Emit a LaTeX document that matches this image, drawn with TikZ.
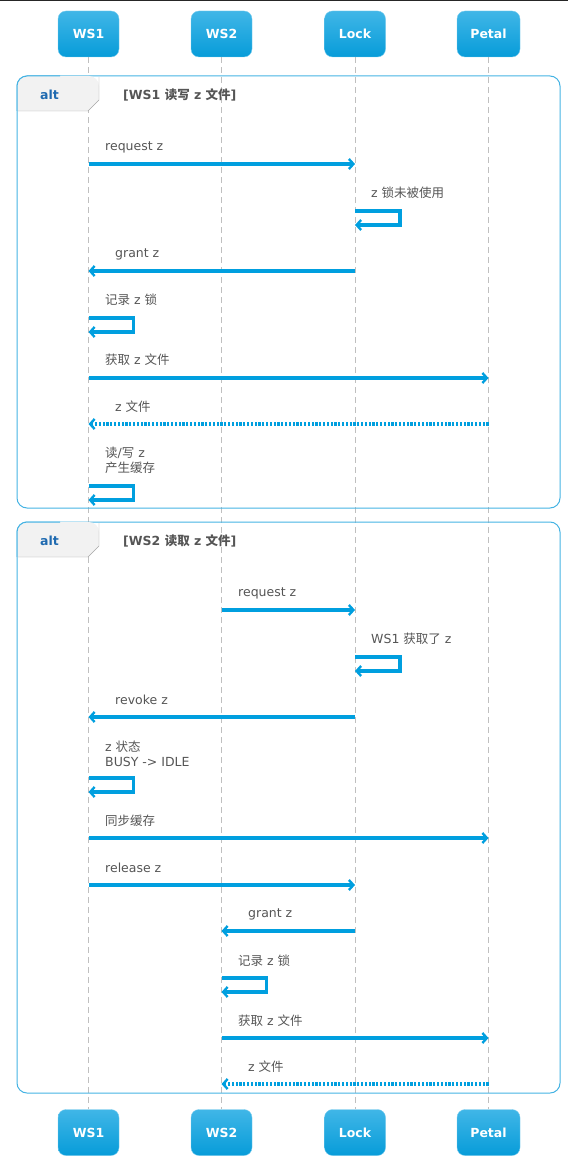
\documentclass[tikz,border=0pt]{standalone}
\usepackage{fontspec}
\setmainfont{DejaVu Sans}
\newfontfamily\cjk{Noto Sans CJK SC}
\usetikzlibrary{arrows.meta}
\definecolor{msgblue}{HTML}{009FDF}
\definecolor{boxtop}{HTML}{40B6E7}
\definecolor{boxbot}{HTML}{079CD9}
\definecolor{framecol}{HTML}{45B3E3}
\definecolor{txtgray}{HTML}{555555}
\definecolor{altblue}{HTML}{1F6AB0}
\definecolor{tabfill}{HTML}{F2F2F2}
\newcommand{\zh}[1]{{\cjk #1}}

\begin{document}
\begin{tikzpicture}[x=1pt,y=-1pt]

      \tikzset{actor/.style={draw=boxtop!70!white, top color=boxtop, bottom color=boxbot, rounded corners=8pt,
                 minimum width=61pt, minimum height=46pt, text=white, font=\fontsize{12.5}{15}\selectfont\bfseries},
               msg/.style={draw=msgblue, line width=3.2pt, -{Straight Barb[length=4.5pt,width=10pt,line width=2.4pt]}},
               reply/.style={msg, dash pattern=on 2.2pt off 1.6pt},
               lifeline/.style={draw=black!25, dash pattern=on 6pt off 4pt, line width=0.8pt},
               note/.style={anchor=west, text=txtgray, inner sep=0pt, font=\fontsize{12.5}{15}\selectfont, align=left},
               frame/.style={draw=framecol, line width=1pt, rounded corners=10pt},
               title/.style={anchor=west, text=txtgray, inner sep=0pt, font=\fontsize{12.5}{15}\selectfont\bfseries}}
      \useasboundingbox (0,0) rectangle (568,1158);
      \draw[black!85, line width=1.2pt] (0,0.6) -- (568,0.6);
%% Participants
      	\node[actor] (ws1) at (88.5,34) {WS1};
      	\node[actor] (ws2) at (221.5,34) {WS2};
      	\node[actor] (lock) at (355,34) {Lock};
      	\node[actor, minimum width=63pt] (petal) at (488.5,34) {Petal};
      	\node[actor] (ws1b) at (88.5,1132.5) {WS1};
      	\node[actor] (ws2b) at (221.5,1132.5) {WS2};
      	\node[actor] (lockb) at (355,1132.5) {Lock};
      	\node[actor, minimum width=63pt] (petalb) at (488.5,1132.5) {Petal};
%% Lifelines
		\draw[lifeline] (ws1) -- (ws1b);
		\draw[lifeline] (ws2) -- (ws2b);
		\draw[lifeline] (lock) -- (lockb);
		\draw[lifeline] (petal) -- (petalb);
%% Frame 1
		\draw[frame] (17,76) rectangle (560,508);
		\fill[tabfill, rounded corners=10pt] (17,111) -- (17,76) -- (99,76) [sharp corners] -- (99,100) -- (88,111) -- cycle;
		\draw[black!35] (99,77) -- (99,100) -- (88,111) -- (17.5,111);
		\draw[framecol, line width=1pt, rounded corners=10pt] (17,111) -- (17,76) -- (60,76);
		\node[title, text=altblue] (alt1) at (40,95) {alt};
		\node[title] (guard1) at (123,95) {[WS1 \zh{读写} z \zh{文件}]};
%% Messages 1
		\draw[msg] (ws1 |- 0,164) -- (lock |- 0,164);
		\node[note] (m1) at (105,147) {request z};
		\draw[msg] (lock |- 0,211) -- ++(45,0) |- (lock |- 0,225);
		\node[note] (m2) at (371,193) {z \zh{锁未被使用}};
		\draw[msg] (lock |- 0,271) -- (ws1 |- 0,271);
		\node[note] (m3) at (115,254) {grant z};
		\draw[msg] (ws1 |- 0,318) -- ++(45,0) |- (ws1 |- 0,332);
		\node[note] (m4) at (105,300) {\zh{记录} z \zh{锁}};
		\draw[msg] (ws1 |- 0,378) -- (petal |- 0,378);
		\node[note] (m5) at (105,360) {\zh{获取} z \zh{文件}};
		\draw[reply] (petal |- 0,424) -- (ws1 |- 0,424);
		\node[note] (m6) at (115,407) {z \zh{文件}};
		\draw[msg] (ws1 |- 0,486) -- ++(45,0) |- (ws1 |- 0,500);
		\node[note] (m7) at (105,460.5) {\zh{读}/\zh{写} z\\\zh{产生缓存}};
%% Frame 2
		\draw[frame] (17,522) rectangle (560,1093);
		\fill[tabfill, rounded corners=10pt] (17,557) -- (17,522) -- (99,522) [sharp corners] -- (99,546) -- (88,557) -- cycle;
		\draw[black!35] (99,523) -- (99,546) -- (88,557) -- (17.5,557);
		\draw[framecol, line width=1pt, rounded corners=10pt] (17,557) -- (17,522) -- (60,522);
		\node[title, text=altblue] (alt2) at (40,541) {alt};
		\node[title] (guard2) at (123,541) {[WS2 \zh{读取} z \zh{文件}]};
%% Messages 2
		\draw[msg] (ws2 |- 0,610) -- (lock |- 0,610);
		\node[note] (n1) at (238,593) {request z};
		\draw[msg] (lock |- 0,657) -- ++(45,0) |- (lock |- 0,671);
		\node[note] (n2) at (371,639) {WS1 \zh{获取了} z};
		\draw[msg] (lock |- 0,717) -- (ws1 |- 0,717);
		\node[note] (n3) at (115,700) {revoke z};
		\draw[msg] (ws1 |- 0,778) -- ++(45,0) |- (ws1 |- 0,792);
		\node[note] (n4) at (105,754) {z \zh{状态}\\BUSY -> IDLE};
		\draw[msg] (ws1 |- 0,838) -- (petal |- 0,838);
		\node[note] (n5) at (105,821) {\zh{同步缓存}};
		\draw[msg] (ws1 |- 0,885) -- (lock |- 0,885);
		\node[note] (n6) at (105,868) {release z};
		\draw[msg] (lock |- 0,931) -- (ws2 |- 0,931);
		\node[note] (n7) at (248,914) {grant z};
		\draw[msg] (ws2 |- 0,978) -- ++(45,0) |- (ws2 |- 0,992);
		\node[note] (n8) at (238,961) {\zh{记录} z \zh{锁}};
		\draw[msg] (ws2 |- 0,1038) -- (petal |- 0,1038);
		\node[note] (n9) at (238,1021) {\zh{获取} z \zh{文件}};
		\draw[reply] (petal |- 0,1084) -- (ws2 |- 0,1084);
		\node[note] (n10) at (248,1067) {z \zh{文件}};

	\end{tikzpicture}
\end{document}
